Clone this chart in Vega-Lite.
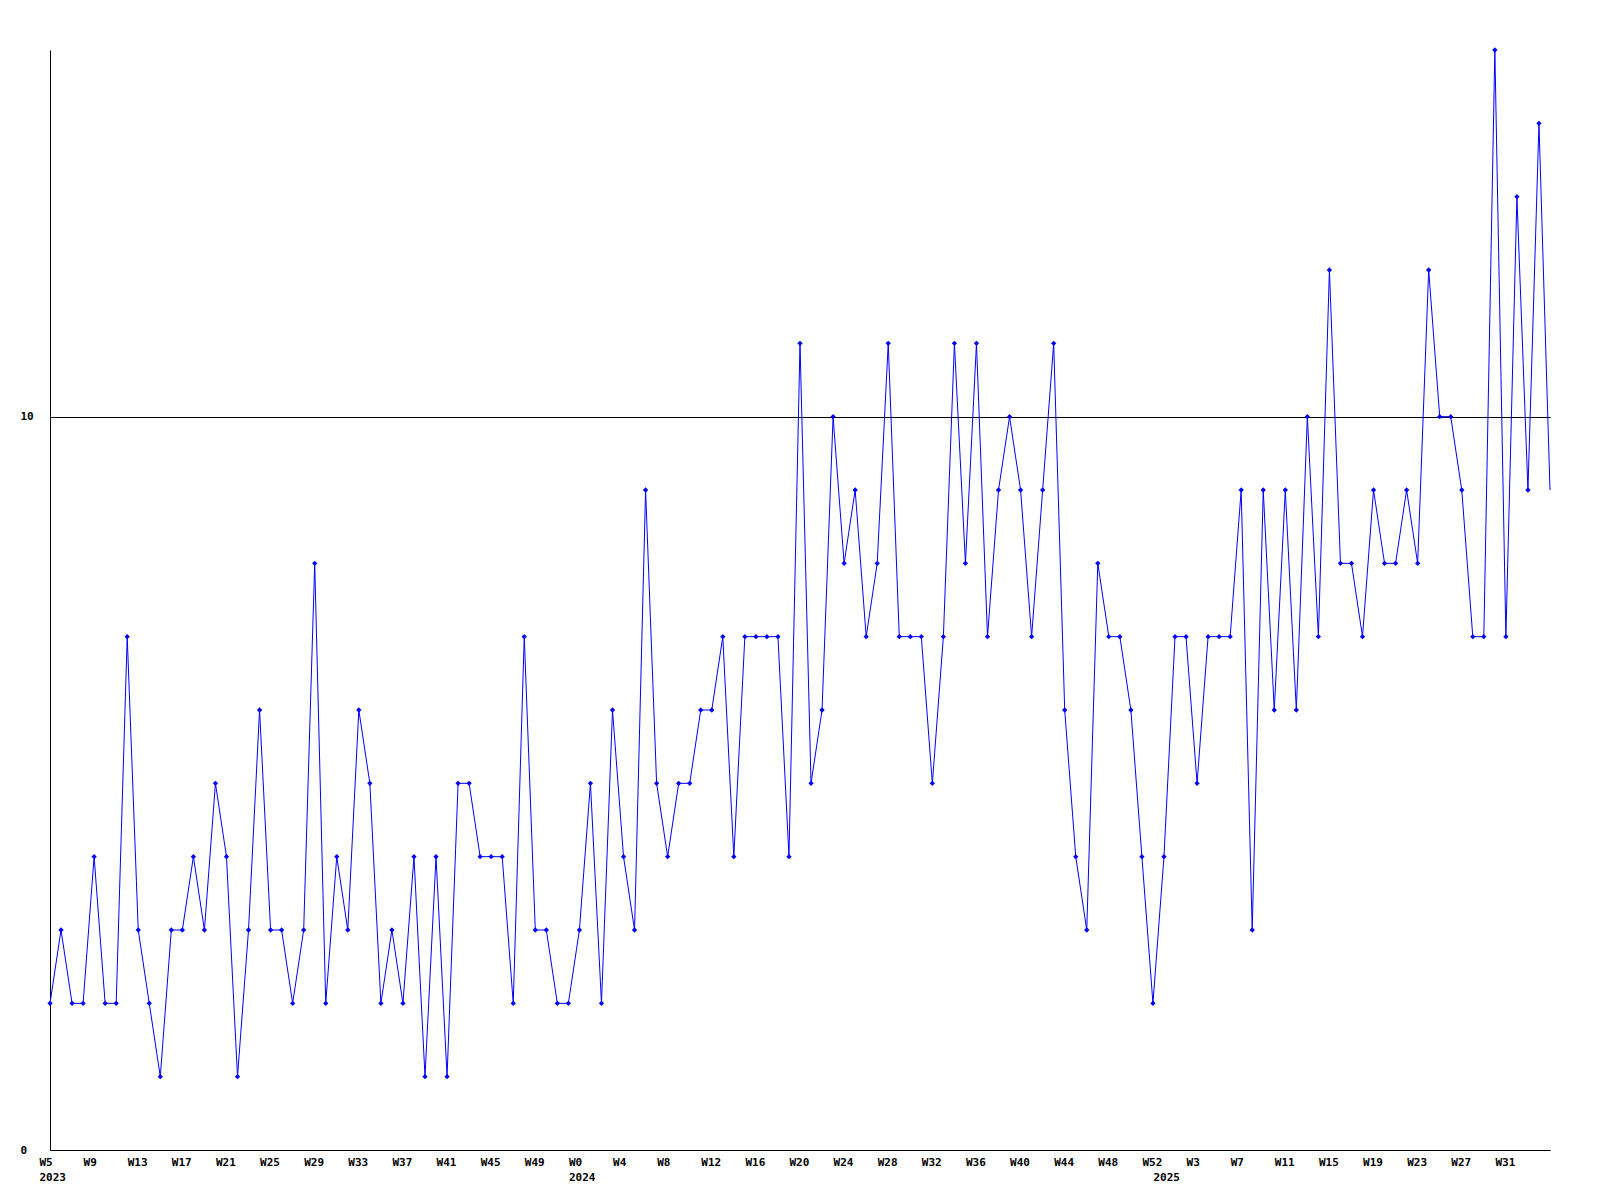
{
  "$schema": "https://vega.github.io/schema/vega-lite/v6.json",
  "width": 1500,
  "height": 1100,
  "autosize": {"type": "none"},
  "padding": {"left": 50, "top": 50, "right": 50, "bottom": 50},
  "background": "white",
  "config": {
    "view": {"stroke": null},
    "axis": {
      "labelFont": "DejaVu Sans Mono",
      "labelFontSize": 11,
      "labelFontWeight": "bold",
      "labelColor": "black",
      "domainColor": "black",
      "domainWidth": 1,
      "ticks": false,
      "title": null
    }
  },
  "data": {
    "values": [
      {"key": "2023-W5", "v": 2}, {"key": "2023-W6", "v": 3}, {"key": "2023-W7", "v": 2}, {"key": "2023-W8", "v": 2},
      {"key": "2023-W9", "v": 4}, {"key": "2023-W10", "v": 2}, {"key": "2023-W11", "v": 2}, {"key": "2023-W12", "v": 7},
      {"key": "2023-W13", "v": 3}, {"key": "2023-W14", "v": 2}, {"key": "2023-W15", "v": 1}, {"key": "2023-W16", "v": 3},
      {"key": "2023-W17", "v": 3}, {"key": "2023-W18", "v": 4}, {"key": "2023-W19", "v": 3}, {"key": "2023-W20", "v": 5},
      {"key": "2023-W21", "v": 4}, {"key": "2023-W22", "v": 1}, {"key": "2023-W23", "v": 3}, {"key": "2023-W24", "v": 6},
      {"key": "2023-W25", "v": 3}, {"key": "2023-W26", "v": 3}, {"key": "2023-W27", "v": 2}, {"key": "2023-W28", "v": 3},
      {"key": "2023-W29", "v": 8}, {"key": "2023-W30", "v": 2}, {"key": "2023-W31", "v": 4}, {"key": "2023-W32", "v": 3},
      {"key": "2023-W33", "v": 6}, {"key": "2023-W34", "v": 5}, {"key": "2023-W35", "v": 2}, {"key": "2023-W36", "v": 3},
      {"key": "2023-W37", "v": 2}, {"key": "2023-W38", "v": 4}, {"key": "2023-W39", "v": 1}, {"key": "2023-W40", "v": 4},
      {"key": "2023-W41", "v": 1}, {"key": "2023-W42", "v": 5}, {"key": "2023-W43", "v": 5}, {"key": "2023-W44", "v": 4},
      {"key": "2023-W45", "v": 4}, {"key": "2023-W46", "v": 4}, {"key": "2023-W47", "v": 2}, {"key": "2023-W48", "v": 7},
      {"key": "2023-W49", "v": 3}, {"key": "2023-W50", "v": 3}, {"key": "2023-W51", "v": 2}, {"key": "2023-W52", "v": 2},
      {"key": "2024-W0", "v": 3}, {"key": "2024-W1", "v": 5}, {"key": "2024-W2", "v": 2}, {"key": "2024-W3", "v": 6},
      {"key": "2024-W4", "v": 4}, {"key": "2024-W5", "v": 3}, {"key": "2024-W6", "v": 9}, {"key": "2024-W7", "v": 5},
      {"key": "2024-W8", "v": 4}, {"key": "2024-W9", "v": 5}, {"key": "2024-W10", "v": 5}, {"key": "2024-W11", "v": 6},
      {"key": "2024-W12", "v": 6}, {"key": "2024-W13", "v": 7}, {"key": "2024-W14", "v": 4}, {"key": "2024-W15", "v": 7},
      {"key": "2024-W16", "v": 7}, {"key": "2024-W17", "v": 7}, {"key": "2024-W18", "v": 7}, {"key": "2024-W19", "v": 4},
      {"key": "2024-W20", "v": 11}, {"key": "2024-W21", "v": 5}, {"key": "2024-W22", "v": 6}, {"key": "2024-W23", "v": 10},
      {"key": "2024-W24", "v": 8}, {"key": "2024-W25", "v": 9}, {"key": "2024-W26", "v": 7}, {"key": "2024-W27", "v": 8},
      {"key": "2024-W28", "v": 11}, {"key": "2024-W29", "v": 7}, {"key": "2024-W30", "v": 7}, {"key": "2024-W31", "v": 7},
      {"key": "2024-W32", "v": 5}, {"key": "2024-W33", "v": 7}, {"key": "2024-W34", "v": 11}, {"key": "2024-W35", "v": 8},
      {"key": "2024-W36", "v": 11}, {"key": "2024-W37", "v": 7}, {"key": "2024-W38", "v": 9}, {"key": "2024-W39", "v": 10},
      {"key": "2024-W40", "v": 9}, {"key": "2024-W41", "v": 7}, {"key": "2024-W42", "v": 9}, {"key": "2024-W43", "v": 11},
      {"key": "2024-W44", "v": 6}, {"key": "2024-W45", "v": 4}, {"key": "2024-W46", "v": 3}, {"key": "2024-W47", "v": 8},
      {"key": "2024-W48", "v": 7}, {"key": "2024-W49", "v": 7}, {"key": "2024-W50", "v": 6}, {"key": "2024-W51", "v": 4},
      {"key": "2024-W52", "v": 2}, {"key": "2025-W0", "v": 4}, {"key": "2025-W1", "v": 7}, {"key": "2025-W2", "v": 7},
      {"key": "2025-W3", "v": 5}, {"key": "2025-W4", "v": 7}, {"key": "2025-W5", "v": 7}, {"key": "2025-W6", "v": 7},
      {"key": "2025-W7", "v": 9}, {"key": "2025-W8", "v": 3}, {"key": "2025-W9", "v": 9}, {"key": "2025-W10", "v": 6},
      {"key": "2025-W11", "v": 9}, {"key": "2025-W12", "v": 6}, {"key": "2025-W13", "v": 10}, {"key": "2025-W14", "v": 7},
      {"key": "2025-W15", "v": 12}, {"key": "2025-W16", "v": 8}, {"key": "2025-W17", "v": 8}, {"key": "2025-W18", "v": 7},
      {"key": "2025-W19", "v": 9}, {"key": "2025-W20", "v": 8}, {"key": "2025-W21", "v": 8}, {"key": "2025-W22", "v": 9},
      {"key": "2025-W23", "v": 8}, {"key": "2025-W24", "v": 12}, {"key": "2025-W25", "v": 10}, {"key": "2025-W26", "v": 10},
      {"key": "2025-W27", "v": 9}, {"key": "2025-W28", "v": 7}, {"key": "2025-W29", "v": 7}, {"key": "2025-W30", "v": 15},
      {"key": "2025-W31", "v": 7}, {"key": "2025-W32", "v": 13}, {"key": "2025-W33", "v": 9}, {"key": "2025-W34", "v": 14},
      {"key": "2025-W35", "v": 9}
    ]
  },
  "encoding": {
    "x": {
      "field": "key",
      "type": "ordinal",
      "sort": null,
      "scale": {"type": "point", "padding": 0},
      "axis": {
        "values": ["2023-W5", "2023-W9", "2023-W13", "2023-W17", "2023-W21", "2023-W25", "2023-W29", "2023-W33", "2023-W37", "2023-W41", "2023-W45", "2023-W49",
                   "2024-W0", "2024-W4", "2024-W8", "2024-W12", "2024-W16", "2024-W20", "2024-W24", "2024-W28", "2024-W32", "2024-W36", "2024-W40", "2024-W44", "2024-W48", "2024-W52",
                   "2025-W0", "2025-W3", "2025-W7", "2025-W11", "2025-W15", "2025-W19", "2025-W23", "2025-W27", "2025-W31"],
        "labelExpr": "datum.value === '2025-W0' ? ['', '2025'] : indexof(['2023-W5','2024-W0'], datum.value) >= 0 ? [split(datum.value,'-')[1], split(datum.value,'-')[0]] : split(datum.value,'-')[1]",
        "labelAngle": 0,
        "labelAlign": "left",
        "labelBaseline": "top",
        "labelOffset": -11,
        "labelPadding": 6,
        "labelLineHeight": 15,
        "labelOverlap": false,
        "labelFlush": false,
        "grid": false
      }
    },
    "y": {
      "field": "v",
      "type": "quantitative",
      "scale": {"domain": [0, 15], "nice": false, "zero": true},
      "axis": {
        "values": [0, 10],
        "grid": true,
        "gridColor": "black",
        "gridOpacity": 1,
        "gridWidth": 1,
        "labelAlign": "left",
        "labelBaseline": "middle",
        "labelPadding": 30
      }
    }
  },
  "layer": [
    {"mark": {"type": "line", "color": "#0000ff", "strokeWidth": 1}},
    {
      "transform": [{"filter": "datum.key !== '2025-W35'"}],
      "mark": {"type": "point", "shape": "diamond", "filled": true, "color": "#0000ff", "size": 28, "opacity": 1}
    }
  ]
}
